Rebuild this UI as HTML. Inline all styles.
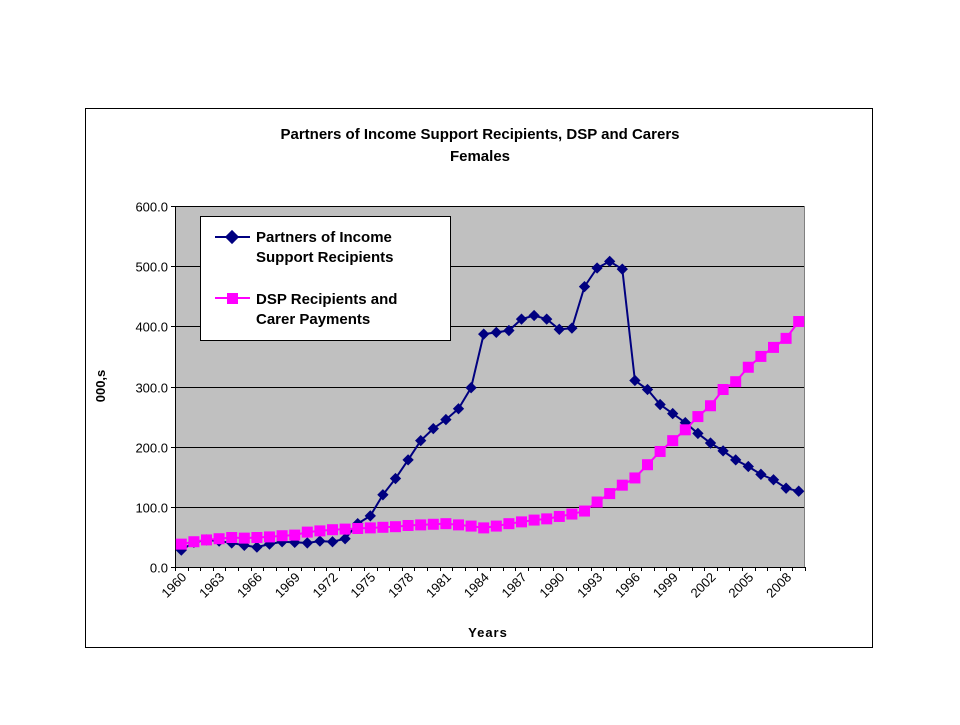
<!DOCTYPE html>
<html><head><meta charset="utf-8"><style>
body{margin:0;background:#fff;font-family:"Liberation Sans",Arial,sans-serif}
</style></head><body>
<svg width="960" height="720" xmlns="http://www.w3.org/2000/svg">
<rect x="85.5" y="108.5" width="787" height="539" fill="#fff" stroke="#000"/>
<text x="480" y="139" text-anchor="middle" font-weight="bold" font-size="15">Partners of Income Support Recipients, DSP and Carers</text>
<text x="480" y="161" text-anchor="middle" font-weight="bold" font-size="15">Females</text>
<rect x="175" y="206" width="630" height="361" fill="#c0c0c0"/>
<g id="grid"></g><g id="axes"></g><g id="series"></g>
<text x="488" y="637" text-anchor="middle" font-weight="bold" font-size="13" letter-spacing="1">Years</text>
<text transform="translate(105,386) rotate(-90)" text-anchor="middle" font-weight="bold" font-size="13">000,s</text>
<g>
<rect x="200.5" y="216.5" width="250" height="124" fill="#fff" stroke="#000"/>
<line x1="215" y1="237" x2="250" y2="237" stroke="#000080" stroke-width="2"/>
<rect x="227" y="232" width="10" height="10" fill="#000080" transform="rotate(45 232 237)"/>
<text x="256" y="242" font-weight="bold" font-size="15">Partners of Income</text>
<text x="256" y="262" font-weight="bold" font-size="15">Support Recipients</text>
<line x1="215" y1="298" x2="250" y2="298" stroke="#ff00ff" stroke-width="2"/>
<rect x="227" y="293" width="11" height="11" fill="#ff00ff"/>
<text x="256" y="304" font-weight="bold" font-size="15">DSP Recipients and</text>
<text x="256" y="324" font-weight="bold" font-size="15">Carer Payments</text>
</g>
</svg>
<script>
const years=[];for(let y=1960;y<=2009;y++)years.push(y);
const partners=[28,41,45,43,40,36,33,38,42,41,40,43,42,47,72,85,120,147,178,210,230,245,263,298,387,390,393,412,418,412,395,397,466,497,508,495,310,295,270,255,240,222,206,193,178,167,154,145,131,126];
const dsp=[38,42,45,47,49,48,49,50,52,53,58,60,62,63,64,65,66,67,69,70,71,72,70,68,65,68,72,75,78,80,84,88,93,108,122,136,148,170,192,210,228,250,268,295,308,332,350,365,380,408];
const yTicks=[0,100,200,300,400,500,600];
const NS="http://www.w3.org/2000/svg";
const L=175,R=805,T=206,B=567;
const step=(R-L)/years.length;
const xs=i=>L+step*(i+0.5);
const ys=v=>B-(v/600)*(B-T);
function mk(tag,attrs,parent){const e=document.createElementNS(NS,tag);for(const k in attrs)e.setAttribute(k,attrs[k]);parent.appendChild(e);return e;}
const grid=document.getElementById('grid'),axes=document.getElementById('axes'),ser=document.getElementById('series');
yTicks.forEach(t=>{
 const y=Math.round(ys(t))+0.5;
 if(t>0){const g=mk('line',{x1:L,x2:R,y1:y,y2:y,stroke:'#000'},grid);}
 mk('line',{x1:L-4,x2:L,y1:y,y2:y,stroke:'#000'},axes);
 const tx=mk('text',{x:L-7,y:y+5,'text-anchor':'end','font-size':'13'},axes);tx.textContent=t.toFixed(1);
 
});
mk('line',{x1:L+0.5,x2:L+0.5,y1:T,y2:B,stroke:'#000'},axes);
mk('line',{x1:L,x2:R,y1:B+0.5,y2:B+0.5,stroke:'#000'},axes);
mk('line',{x1:R-0.5,x2:R-0.5,y1:T,y2:B,stroke:'#808080'},axes);
for(let i=0;i<=years.length;i++){const x=Math.round(L+step*i)+0.5;mk('line',{x1:x,x2:x,y1:B,y2:B+4,stroke:'#000'},axes);}
years.forEach((yr,i)=>{if(i%3)return;const x=xs(i);
 const tx=mk('text',{transform:`translate(${x+6},${B+11}) rotate(-45)`,'text-anchor':'end','font-size':'13'},axes);tx.textContent=yr;
 });
function line(vals,color,name){
 const p=mk('polyline',{points:vals.map((v,i)=>xs(i)+','+ys(v)).join(' '),fill:'none',stroke:color,'stroke-width':2},ser);
 
}
line(partners,'#000080','partners');line(dsp,'#ff00ff','dsp');
partners.forEach((v,i)=>{const x=xs(i),y=ys(v);
 const m=mk('rect',{x:x-4,y:y-4,width:8,height:8,fill:'#000080',transform:`rotate(45 ${x} ${y})`},ser);
 });
dsp.forEach((v,i)=>{const x=xs(i),y=ys(v);
 const m=mk('rect',{x:x-5.5,y:y-5.5,width:11,height:11,fill:'#ff00ff'},ser);
 });
</script>
</body></html>
